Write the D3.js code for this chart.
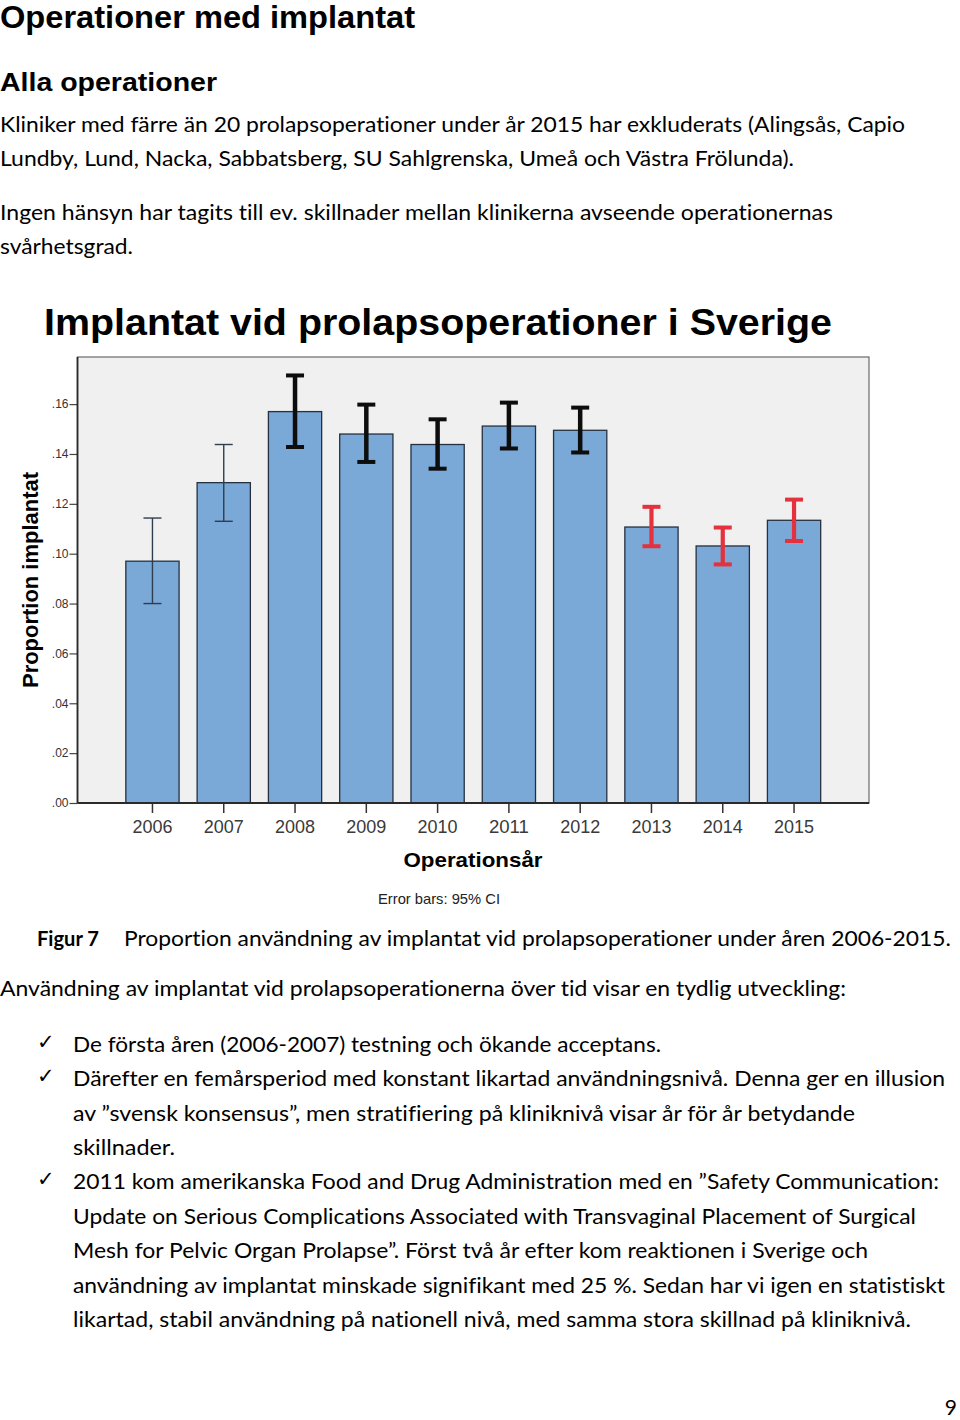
<!DOCTYPE html>
<html>
<head>
<meta charset="utf-8">
<script src="https://cdn.jsdelivr.net/npm/d3@7"></script>
<style>
  html, body { margin: 0; padding: 0; background: #ffffff; }
  svg { display: block; }
  text { font-variant-ligatures: none; font-feature-settings: "liga" 0, "clig" 0; }
</style>
</head>
<body>
<script>
// ---------- DATA ----------
const years = ["2006","2007","2008","2009","2010","2011","2012","2013","2014","2015"];
const proportion = [0.097, 0.1285, 0.157, 0.148, 0.1438, 0.1512, 0.1495, 0.1107, 0.1031, 0.1134];
const ciLower    = [0.080, 0.113, 0.1428, 0.1368, 0.1341, 0.1422, 0.1406, 0.1030, 0.0957, 0.1051];
const ciUpper    = [0.1143, 0.1438, 0.1715, 0.1598, 0.1539, 0.1606, 0.1586, 0.1188, 0.1105, 0.1217];
const period     = ["intro","intro","stable","stable","stable","stable","stable","postFDA","postFDA","postFDA"];
const yTicks = [0, 0.02, 0.04, 0.06, 0.08, 0.10, 0.12, 0.14, 0.16];

const chartTitle = "Implantat vid prolapsoperationer i Sverige";
const yTitle = "Proportion implantat";
const xTitle = "Operationsår";
const errNote = "Error bars: 95% CI";

// ---------- PAGE ----------
const svg = d3.select("body").append("svg")
  .attr("width", 960).attr("height", 1420);

const sans = "'Liberation Sans', Arial, sans-serif";
const body = "Lato, 'Open Sans', sans-serif";

function txt(s, x, y, size, opts = {}) {
  const t = svg.append("text")
    .attr("x", x).attr("y", y)
    .attr("font-family", opts.family || body)
    .attr("font-size", size)
    .attr("font-weight", opts.weight || "normal")
    .attr("fill", opts.fill || "#000")
    .attr("text-anchor", opts.anchor || "start")
    .text(s);
  if (opts.len) t.attr("textLength", opts.len).attr("lengthAdjust", "spacingAndGlyphs");
  if (opts.transform) t.attr("transform", opts.transform);
  return t;
}

// headings
txt("Operationer med implantat", 0, 28, 32, {family: sans, weight: "bold", len: 415});
txt("Alla operationer", 0, 91, 25.5, {family: sans, weight: "bold", len: 217});

// intro paragraphs
txt("Kliniker med färre än 20 prolapsoperationer under år 2015 har exkluderats (Alingsås, Capio", 0, 131.5, 20.5, {len: 905});
txt("Lundby, Lund, Nacka, Sabbatsberg, SU Sahlgrenska, Umeå och Västra Frölunda).", 0, 165.5, 20.5, {len: 794});
txt("Ingen hänsyn har tagits till ev. skillnader mellan klinikerna avseende operationernas", 0, 220, 20.5, {len: 833});
txt("svårhetsgrad.", 0, 254, 20.5, {len: 133});

// ---------- CHART ----------
const plot = {left: 77.5, right: 869, top: 357, bottom: 803};

const x = d3.scaleBand().domain(years)
  .range([plot.left, plot.right])
  .paddingInner(0.253).paddingOuter(0.678);
const y = d3.scaleLinear().domain([0, 0.1789]).range([plot.bottom, plot.top]);

txt(chartTitle, 44, 335, 36, {family: sans, weight: "bold", len: 788});

svg.append("rect")
  .attr("x", plot.left).attr("y", plot.top)
  .attr("width", plot.right - plot.left).attr("height", plot.bottom - plot.top)
  .attr("fill", "#f0f0f0").attr("stroke", "#6a6a6a").attr("stroke-width", 1.2);

// bars
const data = years.map((yr, i) => ({yr, v: proportion[i], lo: ciLower[i], hi: ciUpper[i], p: period[i]}));

svg.append("g").selectAll("rect").data(data).join("rect")
  .attr("x", d => x(d.yr))
  .attr("y", d => y(d.v))
  .attr("width", x.bandwidth())
  .attr("height", d => y(0) - y(d.v))
  .attr("fill", "#7aa8d7")
  .attr("stroke", "#253140")
  .attr("stroke-width", 1.3);

// error bars
const errStyle = {
  intro:   {color: "#2f3e4f", w: 1.4, cw: 1.4},
  stable:  {color: "#0d0d0d", w: 4.5, cw: 4},
  postFDA: {color: "#e3313d", w: 4.2, cw: 4}
};
const eg = svg.append("g");
data.forEach(d => {
  const s = errStyle[d.p];
  const cx = x(d.yr) + x.bandwidth() / 2;
  eg.append("line").attr("x1", cx).attr("x2", cx)
    .attr("y1", y(d.lo)).attr("y2", y(d.hi))
    .attr("stroke", s.color).attr("stroke-width", s.w);
  [d.lo, d.hi].forEach(v => {
    eg.append("line").attr("x1", cx - 9).attr("x2", cx + 9)
      .attr("y1", y(v)).attr("y2", y(v))
      .attr("stroke", s.color).attr("stroke-width", s.cw);
  });
});

// axes
const yAxis = d3.axisLeft(y).tickValues(yTicks).tickSize(8).tickSizeOuter(0)
  .tickFormat(d => d3.format(".2f")(d).replace(/^0/, ""));
const gy = svg.append("g").attr("transform", `translate(${plot.left},0)`).call(yAxis);
gy.select(".domain").remove();
gy.selectAll(".tick line").attr("stroke", "#444").attr("stroke-width", 1.2);
gy.selectAll(".tick text").attr("font-family", sans).attr("font-size", 12)
  .attr("fill", "#333").attr("x", -9);

const xAxis = d3.axisBottom(x).tickSize(10).tickSizeOuter(0).tickPadding(7);
const gx = svg.append("g").attr("transform", `translate(0,${plot.bottom})`).call(xAxis);
gx.select(".domain").remove();
gx.selectAll(".tick line").attr("stroke", "#333").attr("stroke-width", 1.5);
gx.selectAll(".tick text").attr("font-family", sans).attr("font-size", 19)
  .attr("fill", "#3a3a3a").attr("textLength", 40).attr("lengthAdjust", "spacingAndGlyphs");

// axis lines
svg.append("line").attr("x1", plot.left).attr("x2", plot.left)
  .attr("y1", plot.top).attr("y2", plot.bottom).attr("stroke", "#2a2a2a").attr("stroke-width", 1.8);
svg.append("line").attr("x1", plot.left).attr("x2", plot.right)
  .attr("y1", plot.bottom).attr("y2", plot.bottom).attr("stroke", "#2a2a2a").attr("stroke-width", 1.8);

// axis titles
txt(yTitle, 0, 0, 21.5, {family: sans, weight: "bold", anchor: "middle", len: 216,
  transform: "translate(38,580) rotate(-90)"});
txt(xTitle, 473, 867, 21, {family: sans, weight: "bold", anchor: "middle", len: 139});
txt(errNote, 439, 904, 14.5, {family: sans, anchor: "middle", fill: "#222", len: 122});

// ---------- CAPTION & TEXT BELOW ----------
txt("Figur 7", 37, 946, 20.5, {weight: "bold", len: 62});
txt("Proportion användning av implantat vid prolapsoperationer under åren 2006-2015.", 124, 946, 20.5, {len: 827});

txt("Användning av implantat vid prolapsoperationerna över tid visar en tydlig utveckling:", 0, 996, 20.5, {len: 846});

const bulletLines = [
  {s: "De första åren (2006-2007) testning och ökande acceptans.", y: 1051.5, end: 661, check: true},
  {s: "Därefter en femårsperiod med konstant likartad användningsnivå. Denna ger en illusion", y: 1086, end: 945, check: true},
  {s: "av ”svensk konsensus”, men stratifiering på kliniknivå visar år för år betydande", y: 1120.5, end: 855},
  {s: "skillnader.", y: 1154.5, end: 175},
  {s: "2011 kom amerikanska Food and Drug Administration med en ”Safety Communication:", y: 1189, end: 939, check: true},
  {s: "Update on Serious Complications Associated with Transvaginal Placement of Surgical", y: 1223.5, end: 916},
  {s: "Mesh for Pelvic Organ Prolapse”. Först två år efter kom reaktionen i Sverige och", y: 1258, end: 868},
  {s: "användning av implantat minskade signifikant med 25 %. Sedan har vi igen en statistiskt", y: 1292.5, end: 945},
  {s: "likartad, stabil användning på nationell nivå, med samma stora skillnad på kliniknivå.", y: 1327, end: 911}
];
bulletLines.forEach(b => {
  if (b.check) txt("✓", 37, b.y - 3, 21, {family: "'DejaVu Sans', sans-serif"});
  txt(b.s, 73, b.y, 20.5, {len: b.end - 73});
});

txt("9", 957, 1415, 21, {anchor: "end"});
</script>
</body>
</html>
